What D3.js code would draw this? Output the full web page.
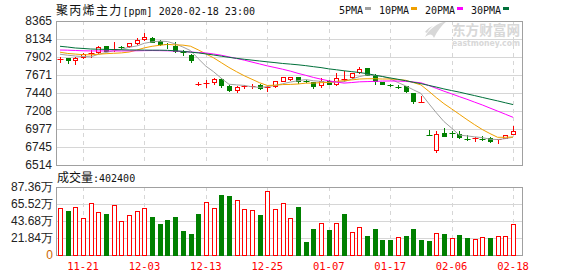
<!DOCTYPE html>
<html>
<head>
<meta charset="utf-8">
<script src="https://cdn.jsdelivr.net/npm/d3@7"></script>
<style>
  html, body { margin: 0; padding: 0; background: #fff; }
  svg { display: block; }
</style>
</head>
<body>
<div id="chart"></div>
<script>
// trading days shown (MM-DD)
const dates = [
  "11-18","11-19","11-20","11-21","11-22","11-25","11-26","11-27","11-28","11-29",
  "12-02","12-03","12-04","12-05","12-06","12-09","12-10","12-11","12-12","12-13",
  "12-16","12-17","12-18","12-19","12-20","12-23","12-24","12-25","12-26","12-27",
  "12-30","12-31","01-02","01-03","01-06","01-07","01-08","01-09","01-10","01-13",
  "01-14","01-15","01-16","01-17","01-20","01-21","01-22","01-23","02-03","02-04",
  "02-05","02-06","02-07","02-10","02-11","02-12","02-13","02-14","02-17","02-18"
];

const opens = [
  7868,7890,7862,7900,7945,7972,8045,7990,8030,8041,
  8079,8140,8151,8109,8065,8045,7970,7929,7555,7555,
  7580,7625,7532,7477,7522,7524,7541,7512,7524,7600,
  7615,7645,7600,7575,7545,7600,7555,7610,7640,7708,
  7755,7675,7580,7540,7522,7525,7440,7320,6905,6709,
  6922,6925,6917,6845,6850,6845,6862,6843,6862,6917
];
const highs = [
  7900,7895,7900,7955,7994,8045,8050,8090,8045,8085,
  8143,8207,8160,8120,8087,8090,7994,7935,7575,7610,
  7630,7630,7540,7525,7545,7550,7555,7535,7600,7650,
  7650,7650,7610,7580,7630,7605,7700,7720,7700,7780,
  7760,7680,7585,7550,7540,7530,7445,7395,6970,6955,
  6990,6945,6945,6895,6875,6892,6880,6848,6905,7020
];
const lows = [
  7840,7823,7818,7885,7908,7960,7980,7985,8010,8035,
  8070,8122,8095,8060,8015,7970,7929,7840,7545,7520,
  7555,7520,7470,7450,7510,7500,7495,7460,7515,7590,
  7605,7565,7580,7500,7520,7550,7545,7595,7630,7700,
  7665,7560,7550,7525,7505,7455,7315,7320,6900,6683,
  6885,6870,6865,6840,6825,6838,6810,6798,6855,6910
];
const closes = [
  7872,7870,7895,7935,7950,8036,7985,8010,8025,8079,
  8122,8160,8100,8067,8055,7975,7960,7862,7558,7565,
  7618,7540,7477,7520,7530,7532,7503,7520,7596,7640,
  7642,7590,7592,7525,7596,7560,7630,7615,7695,7750,
  7675,7590,7558,7535,7518,7460,7340,7322,6900,6913,
  6892,6920,6872,6841,6855,6842,6820,6846,6900,6948
];

// moving averages as drawn
const ma5 = [
  7938,7925,7915,7908,7904,7937,7960,7983,8001,8027,
  8044,8079,8097,8106,8101,8071,8031,7984,7882,7784,
  7713,7629,7552,7544,7537,7520,7512,7521,7536,7558,
  7580,7597,7612,7597,7589,7573,7581,7585,7619,7650,
  7673,7665,7654,7622,7575,7532,7482,7435,7308,7187,
  7073,6989,6899,6888,6876,6866,6846,6841,6853,6871
];
const ma10 = [
  7964,7948,7940,7932,7930,7938,7945,7950,7955,7966,
  7991,8020,8040,8053,8064,8058,8055,8041,7994,7942,
  7892,7830,7768,7713,7661,7616,7571,7536,7540,7548,
  7550,7555,7566,7567,7573,7576,7589,7598,7608,7619,
  7623,7623,7619,7620,7613,7603,7574,7544,7465,7381,
  7303,7236,7167,7098,7032,6970,6918,6870,6870,6874
];
const ma20 = [
  7992,7990,7986,7982,7980,7980,7980,7980,7980,7981,
  7982,7984,7985,7984,7982,7978,7973,7966,7960,7954,
  7941,7925,7904,7883,7862,7837,7813,7788,7767,7745,
  7721,7692,7667,7640,7617,7596,7580,7567,7574,7583,
  7586,7589,7593,7594,7593,7589,7581,7571,7537,7500,
  7463,7429,7393,7359,7322,7286,7246,7207,7167,7127
];
const ma30 = [
  8040,8030,8018,8012,8005,8002,8000,7998,7995,7993,
  7992,7991,7990,7990,7988,7982,7975,7965,7955,7942,
  7928,7913,7898,7885,7873,7862,7851,7840,7830,7819,
  7811,7802,7791,7778,7766,7750,7738,7725,7714,7703,
  7688,7669,7651,7633,7616,7598,7578,7560,7538,7516,
  7492,7471,7451,7428,7406,7383,7360,7338,7314,7291
];

const volumes = [
  609000,562000,622000,481000,673000,550000,524000,648000,435000,520000,
  571000,609000,486000,396000,447000,486000,307000,268000,524000,686000,
  609000,767000,754000,712000,597000,584000,511000,818000,597000,665000,
  481000,614000,166000,332000,409000,320000,409000,524000,290000,366000,
  243000,332000,192000,192000,226000,243000,332000,192000,179000,277000,
  268000,213000,256000,213000,200000,226000,213000,239000,239000,402400
];
// 1 = red (up) bar, 0 = green (down) bar
const volUp = [
  1,0,1,1,1,1,0,1,1,1,
  1,1,0,0,0,0,0,0,0,1,
  1,0,0,1,1,1,0,1,1,1,
  1,0,0,0,1,0,1,0,1,1,
  0,0,0,0,1,0,0,0,0,1,
  0,1,0,0,1,1,0,1,1,1
];

const priceTicks = [8365, 8134, 7902, 7671, 7440, 7208, 6977, 6745, 6514];
const volTicks = [0, 218400, 436800, 655200, 873600];
const volTickLabels = ["0", "21.84万", "43.68万", "65.52万", "87.36万"];
const dateTicks = ["11-21", "12-03", "12-13", "12-25", "01-07", "01-17", "02-06", "02-18"];

const maSeries = [
  { name: "5PMA", values: ma5, color: "#a0a0a0" },
  { name: "10PMA", values: ma10, color: "#f0a000" },
  { name: "20PMA", values: ma20, color: "#ff00ff" },
  { name: "30PMA", values: ma30, color: "#00703a" },
];

const width = 578, height = 276;
const plot = { left: 56, right: 522 };
const priceBox = { top: 21, bottom: 165 };
const volBox = { top: 187, bottom: 255 };

const RED = "#ff0000", GREEN = "#008000";
const GRID = "#d6d6d6", FRAME = "#a0a0a0";
const numFont = '"Liberation Sans", Arial, sans-serif';
const monoFont = '"DejaVu Sans Mono", monospace';
const cjkFont = '"Noto Sans CJK SC", sans-serif';

const svg = d3.select("#chart").append("svg")
  .attr("width", width).attr("height", height)
  .attr("viewBox", `0 0 ${width} ${height}`);

const x = d3.scalePoint().domain(dates).range([60, 513]);
const y = d3.scaleLinear().domain([6514, 8365]).range([priceBox.bottom, priceBox.top]);
const yv = d3.scaleLinear().domain([0, 873600]).range([volBox.bottom, volBox.top]);

const px = (d) => Math.round(x(d)) + 0.5;
const snap = (v) => Math.round(v) + 0.5;

// watermark
const wm = svg.append("g").attr("fill", "#d8d8d8");
wm.append("path")
  .attr("d", "M425,37 C428,30 437,23 447,21 C442,25 437,31 434,38 C432,33 429,34 425,37 Z");
wm.append("path")
  .attr("d", "M433,26 C430,28 428,31 427,33 L425,32 C427,29 430,27 433,26 Z");
wm.append("text")
  .attr("x", 452).attr("y", 35)
  .attr("font-family", cjkFont).attr("font-size", 14).attr("font-weight", "bold")
  .attr("textLength", 68).attr("lengthAdjust", "spacingAndGlyphs")
  .text("东方财富网");
wm.append("text")
  .attr("x", 452).attr("y", 46)
  .attr("font-family", '"DejaVu Sans", sans-serif').attr("font-size", 9).attr("font-weight", "bold")
  .attr("textLength", 68).attr("lengthAdjust", "spacingAndGlyphs")
  .text("eastmoney.com");

// grids
function drawPanelGrid(top, bottom, ticks, scale) {
  const g = svg.append("g");
  g.selectAll("line.h")
    .data(ticks.filter((t) => snap(scale(t)) > top + 1 && snap(scale(t)) < bottom))
    .enter().append("line")
    .attr("x1", plot.left).attr("x2", plot.right)
    .attr("y1", (d) => snap(scale(d))).attr("y2", (d) => snap(scale(d)))
    .attr("stroke", GRID);
  g.selectAll("line.v")
    .data(dateTicks)
    .enter().append("line")
    .attr("x1", px).attr("x2", px)
    .attr("y1", top).attr("y2", bottom)
    .attr("stroke", GRID)
    .attr("stroke-dasharray", "4,4");
  g.append("rect")
    .attr("x", plot.left + 0.5).attr("y", top + 0.5)
    .attr("width", plot.right - plot.left).attr("height", bottom - top)
    .attr("fill", "none").attr("stroke", FRAME);
}
drawPanelGrid(priceBox.top, priceBox.bottom, priceTicks, y);
drawPanelGrid(volBox.top, volBox.bottom, volTicks, yv);

// price axis labels
svg.append("g").selectAll("text")
  .data(priceTicks).enter().append("text")
  .attr("x", 52).attr("y", (d) => y(d))
  .attr("dy", "0.36em")
  .attr("text-anchor", "end")
  .attr("font-family", numFont).attr("font-size", 12)
  .attr("fill", "#222")
  .text((d) => d);

// volume axis labels
svg.append("g").selectAll("text")
  .data(volTicks).enter().append("text")
  .attr("x", 53).attr("y", (d) => yv(d))
  .attr("dy", "0.36em")
  .attr("text-anchor", "end")
  .attr("font-family", numFont).attr("font-size", 12)
  .attr("fill", (d, i) => (i === 0 ? "#cc6600" : "#222"))
  .text((d, i) => volTickLabels[i]);

// date labels
svg.append("g").selectAll("text")
  .data(dateTicks).enter().append("text")
  .attr("x", (d) => x(d)).attr("y", 270)
  .attr("text-anchor", "middle")
  .attr("font-family", monoFont).attr("font-size", 10.5)
  .attr("fill", RED)
  .text((d) => d);

// candles
const candles = dates.map((d, i) => ({
  date: d, open: opens[i], high: highs[i], low: lows[i], close: closes[i],
}));

const cg = svg.append("g")
  .selectAll("g").data(candles).enter().append("g");

cg.append("line")
  .attr("x1", (d) => px(d.date)).attr("x2", (d) => px(d.date))
  .attr("y1", (d) => Math.round(y(d.high))).attr("y2", (d) => Math.round(y(d.low)) + 1)
  .attr("stroke", (d) => (d.close >= d.open ? RED : GREEN));

cg.each(function (d) {
  const g = d3.select(this);
  const up = d.close >= d.open;
  const t = Math.round(y(Math.max(d.open, d.close)));
  const b = Math.round(y(Math.min(d.open, d.close)));
  const cx = px(d.date);
  if (b - t < 2) {
    g.append("line")
      .attr("x1", cx - 3).attr("x2", cx + 3)
      .attr("y1", t + 0.5).attr("y2", t + 0.5)
      .attr("stroke", up ? RED : GREEN);
  } else if (up) {
    g.append("rect")
      .attr("x", cx - 2).attr("y", t + 0.5)
      .attr("width", 4).attr("height", b - t)
      .attr("fill", "#fff").attr("stroke", RED);
  } else {
    g.append("rect")
      .attr("x", cx - 2.5).attr("y", t)
      .attr("width", 5).attr("height", b - t + 1)
      .attr("fill", GREEN);
  }
});

// moving average lines
const line = d3.line()
  .x((v, i) => x(dates[i]))
  .y((v) => y(v));

svg.append("g").selectAll("path")
  .data(maSeries).enter().append("path")
  .attr("d", (s) => line(s.values))
  .attr("fill", "none")
  .attr("stroke", (s) => s.color)
  .attr("stroke-width", 1);

// volume bars
const vg = svg.append("g");
vg.selectAll("rect")
  .data(volumes).enter().append("rect")
  .attr("x", (v, i) => (volUp[i] ? px(dates[i]) - 2 : px(dates[i]) - 2.5))
  .attr("y", (v, i) => (volUp[i] ? Math.round(yv(v)) + 0.5 : Math.round(yv(v))))
  .attr("width", (v, i) => (volUp[i] ? 4 : 5))
  .attr("height", (v, i) => volBox.bottom - Math.round(yv(v)) + (volUp[i] ? 0 : 1))
  .attr("fill", (v, i) => (volUp[i] ? "#fff" : GREEN))
  .attr("stroke", (v, i) => (volUp[i] ? RED : "none"));

// title
const title = svg.append("text").attr("x", 56).attr("y", 14.5).attr("fill", "#111");
title.append("tspan").attr("font-family", cjkFont).attr("font-size", 12)
  .attr("letter-spacing", 1.3).text("聚丙烯主力");
title.append("tspan").attr("font-family", monoFont).attr("font-size", 10).text("[ppm] 2020-02-18 23:00");

// volume caption
const cap = svg.append("text").attr("x", 57).attr("y", 181.5).attr("fill", "#111");
cap.append("tspan").attr("font-family", cjkFont).attr("font-size", 12).text("成交量");
cap.append("tspan").attr("font-family", monoFont).attr("font-size", 10).text(":" + volumes[volumes.length - 1]);

// legend
const legend = svg.append("g");
let cursor = 339;
maSeries.forEach((s) => {
  const t = legend.append("text")
    .attr("x", cursor).attr("y", 13.5)
    .attr("font-family", monoFont).attr("font-size", 10)
    .attr("fill", "#111")
    .text(s.name);
  const w = t.node().getComputedTextLength();
  legend.append("rect")
    .attr("x", Math.round(cursor + w + 2)).attr("y", 7)
    .attr("width", 6).attr("height", 3)
    .attr("fill", s.color);
  cursor = Math.round(cursor + w + 2 + 6 + 8);
});
</script>
</body>
</html>
